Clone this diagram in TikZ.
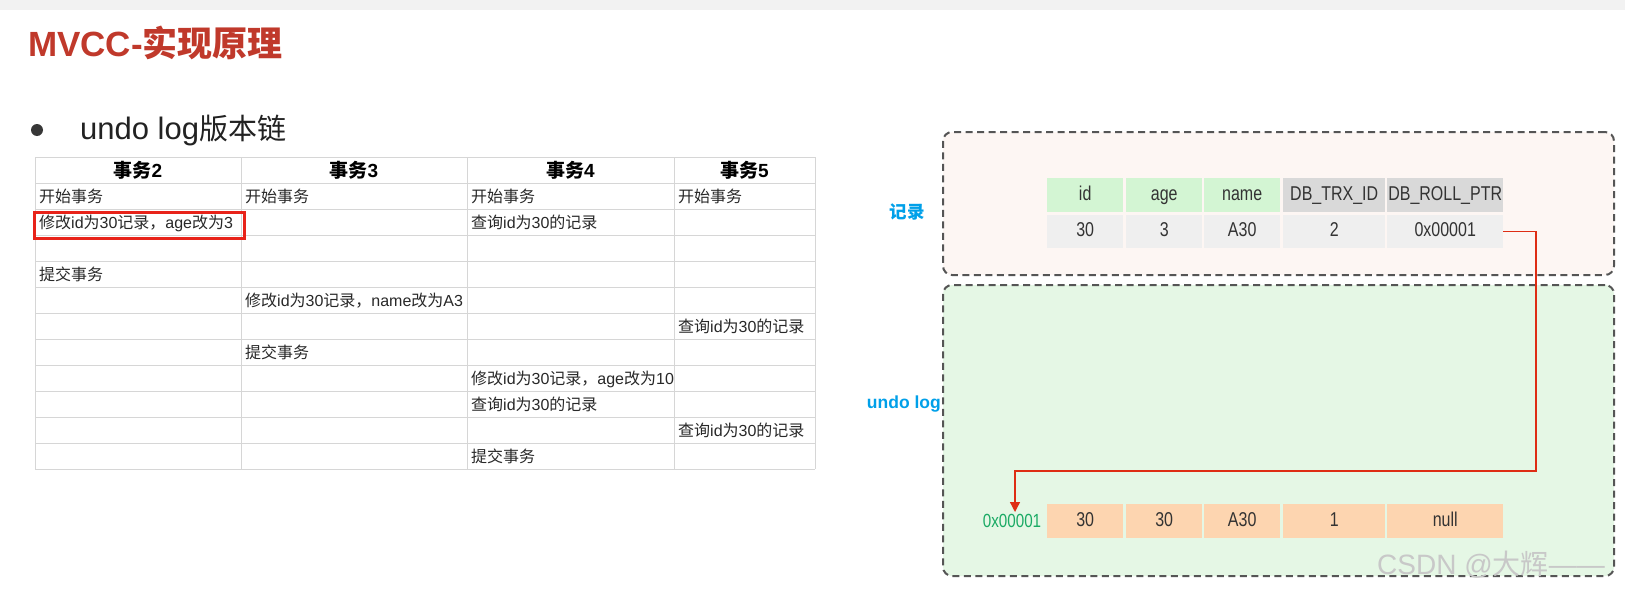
\documentclass[tikz,border=0pt]{standalone}
\usepackage{fontspec}
\usepackage{graphicx}
\setmainfont{Liberation Sans}
\newfontfamily\zh{Noto Sans CJK SC}
\usetikzlibrary{arrows.meta}
\definecolor{topband}{RGB}{242,242,242}
\definecolor{titlered}{RGB}{192,57,43}
\definecolor{textdark}{RGB}{34,34,34}
\definecolor{bulletgray}{RGB}{55,55,55}
\definecolor{gridgray}{RGB}{214,214,214}
\definecolor{tdtext}{RGB}{40,40,40}
\definecolor{hlred}{RGB}{232,35,26}
\definecolor{dashgray}{RGB}{85,85,85}
\definecolor{pinkbg}{RGB}{253,246,243}
\definecolor{greenbg}{RGB}{229,247,229}
\definecolor{hgreen}{RGB}{211,245,211}
\definecolor{hgray}{RGB}{217,217,217}
\definecolor{vgray}{RGB}{239,239,239}
\definecolor{peach}{RGB}{253,213,176}
\definecolor{celltext}{RGB}{51,51,51}
\definecolor{labelblue}{RGB}{0,160,233}
\definecolor{addrgreen}{RGB}{26,170,100}
\definecolor{ptrred}{RGB}{222,45,20}
\definecolor{wmgray}{RGB}{200,200,200}
\newcommand{\nar}[1]{\scalebox{0.8}[1]{#1}}
\tikzset{
  th/.style={font=\fontsize{19}{21}\selectfont\bfseries, text=black, inner sep=0, anchor=base},
  td/.style={font=\fontsize{16}{18}\selectfont, text=tdtext, anchor=base west, inner sep=0},
  hlbox/.style={draw=hlred, line width=2.5pt, inner sep=0, anchor=north west},
  dashbox/.style={draw=dashgray, line width=2pt, dash pattern=on 7pt off 4.5pt, rounded corners=9pt, inner sep=0, anchor=north west},
  cell/.style={inner sep=0, anchor=north west, text=celltext, font=\fontsize{20}{22}\selectfont, minimum height=34, text height=14.5pt, text depth=4pt},
  side/.style={font=\fontsize{17.5}{20}\selectfont\bfseries, text=labelblue, inner sep=0},
  ptr/.style={draw=ptrred, line width=1.3pt, -{Triangle[length=10pt,width=10pt]}},
}
\begin{document}
\begin{tikzpicture}[x=1pt,y=-1pt]
\useasboundingbox (0,0) rectangle (1625,594);
\fill[white] (0,0) rectangle (1625,594);
\fill[topband] (0,0) rectangle (1625,10);

% title
\node[anchor=west, inner sep=0, text=titlered, font=\fontsize{35}{40}\selectfont\bfseries] (title) at (28,43) {MVCC-{\zh 实现原理}};
\node[circle, fill=bulletgray, minimum size=12, inner sep=0] (bullet) at (37,130) {};
\node[anchor=west, inner sep=0, text=textdark, font=\fontsize{31}{34}\selectfont] (sub) at (80,130) {undo log{\zh\fontsize{29}{34}\selectfont 版本链}};

% left table grid
\foreach \i in {0,...,12} {
  \draw[gridgray, line width=1pt] (35,157+26*\i) -- (815,157+26*\i);
}
\foreach \x in {35,241,467,674,815} {
  \draw[gridgray, line width=1pt] (\x,157) -- (\x,469);
}
\node[th] (c2) at (138,177) {{\zh 事务}2};
\node[th] (c3) at (354,177) {{\zh 事务}3};
\node[th] (c4) at (570.5,177) {{\zh 事务}4};
\node[th] (c5) at (744.5,177) {{\zh 事务}5};

\node[td] (r1a) at (39,202) {\zh 开始事务};
\node[td] (r1b) at (245,202) {\zh 开始事务};
\node[td] (r1c) at (471,202) {\zh 开始事务};
\node[td] (r1d) at (678,202) {\zh 开始事务};
\node[td] (r2a) at (39,228) {{\zh 修改}id{\zh 为}30{\zh 记录，}age{\zh 改为}3};
\node[td] (r2c) at (471,228) {{\zh 查询}id{\zh 为}30{\zh 的记录}};
\node[td] (r4a) at (39,280) {\zh 提交事务};
\node[td] (r5b) at (245,306) {{\zh 修改}id{\zh 为}30{\zh 记录，}name{\zh 改为}A3};
\node[td] (r6d) at (678,332) {{\zh 查询}id{\zh 为}30{\zh 的记录}};
\node[td] (r7b) at (245,358) {\zh 提交事务};
\node[td] (r8c) at (471,384) {{\zh 修改}id{\zh 为}30{\zh 记录，}age{\zh 改为}10};
\node[td] (r9c) at (471,410) {{\zh 查询}id{\zh 为}30{\zh 的记录}};
\node[td] (r10d) at (678,436) {{\zh 查询}id{\zh 为}30{\zh 的记录}};
\node[td] (r11c) at (471,462) {\zh 提交事务};
\node[hlbox, minimum width=210, minimum height=26] (hl) at (33,211) {};

% right: boxes
\node[dashbox, fill=pinkbg, minimum width=671, minimum height=143] (recbox) at (942,131) {};
\node[dashbox, fill=greenbg, minimum width=671, minimum height=291] (undobox) at (942,284) {};
\node[side, anchor=center] (reclabel) at (907,212) {\zh 记录};
\node[side, anchor=east] (undolabel) at (941,404) {undo log};

% record table
\node[cell, fill=hgreen, minimum width=76] (h1) at (1047,178) {\nar{id}};
\node[cell, fill=hgreen, minimum width=76] (h2) at (1126,178) {\nar{age}};
\node[cell, fill=hgreen, minimum width=76] (h3) at (1204,178) {\nar{name}};
\node[cell, fill=hgray, minimum width=102] (h4) at (1283,178) {\nar{DB\_TRX\_ID}};
\node[cell, fill=hgray, minimum width=116] (h5) at (1387,178) {\nar{DB\_ROLL\_PTR}};
\node[cell, fill=vgray, minimum width=76, minimum height=33] (v1) at (1047,215) {\nar{30}};
\node[cell, fill=vgray, minimum width=76, minimum height=33] (v2) at (1126,215) {\nar{3}};
\node[cell, fill=vgray, minimum width=76, minimum height=33] (v3) at (1204,215) {\nar{A30}};
\node[cell, fill=vgray, minimum width=102, minimum height=33] (v4) at (1283,215) {\nar{2}};
\node[cell, fill=vgray, minimum width=116, minimum height=33] (v5) at (1387,215) {\nar{0x00001}};

% undo log row
\node[cell, fill=peach, minimum width=76] (u1) at (1047,504) {\nar{30}};
\node[cell, fill=peach, minimum width=76] (u2) at (1126,504) {\nar{30}};
\node[cell, fill=peach, minimum width=76] (u3) at (1204,504) {\nar{A30}};
\node[cell, fill=peach, minimum width=102] (u4) at (1283,504) {\nar{1}};
\node[cell, fill=peach, minimum width=116] (u5) at (1387,504) {\nar{null}};
\node[inner sep=0, text=addrgreen, font=\fontsize{19}{20}\selectfont] (addr) at (1012,521) {\nar{0x00001}};

% pointer
\coordinate (bend) at (1536,471);
\coordinate (tip) at (1015,512);
\draw[ptr] (v5.east) -| (bend) -| (tip);

% watermark
\node[anchor=west, inner sep=0, text=wmgray, font=\fontsize{28}{30}\selectfont] (wm) at (1377,565) {CSDN @{\zh 大辉}——};
\end{tikzpicture}
\end{document}
